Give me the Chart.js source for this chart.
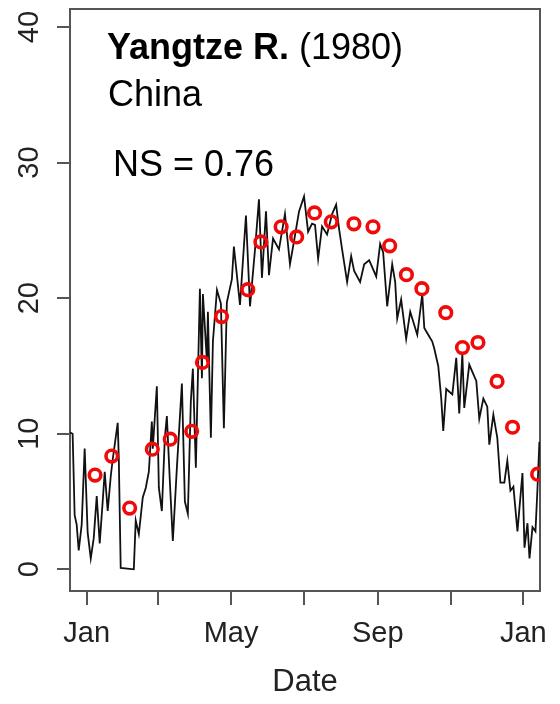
<!DOCTYPE html>
<html lang="en">
<head>
<meta charset="utf-8">
<title>Yangtze R. (1980)</title>
<style>
  body { margin: 0; background: #fff; }
  #wrap { width: 560px; height: 704px; }
</style>
</head>
<body>
<div id="wrap"><canvas id="tempChart"></canvas></div>
<script src="https://cdn.jsdelivr.net/npm/chart.js@4.4.0/dist/chart.umd.min.js"></script>
<script>
// days since 1 Jan 1980, water temperature
var lineDays = [-14.3, -11.8, -10.1, -8.4, -6.7, -4.2, -1.7, 0.8, 3.4, 5.9,
  8.4, 10.9, 13.4, 15.1, 17.6, 20.2, 21.8, 26.0, 26.9, 28.5,
  39.5, 41.1, 43.7, 47.0, 49.5, 52.1, 54.6, 55.4, 58.8, 60.5,
  63.0, 65.5, 67.2, 69.7, 72.2, 75.6, 79.8, 82.3, 84.8, 87.3,
  89.0, 91.5, 94.9, 96.6, 97.4, 100.8, 101.6, 104.1, 105.8, 109.2,
  112.5, 115.0, 117.5, 121.7, 123.4, 128.5, 133.5, 136.9, 141.1, 144.4,
  146.9, 150.3, 152.8, 156.2, 161.2, 166.2, 170.4, 173.8, 178.0, 182.2,
  185.6, 188.9, 191.4, 194.0, 197.3, 201.5, 205.7, 209.1, 211.6, 214.1,
  218.3, 221.7, 224.2, 229.2, 232.6, 236.8, 242.7, 246.0, 248.5, 251.9,
  256.1, 258.6, 260.3, 263.6, 267.8, 271.2, 277.1, 281.3, 283.0, 286.3,
  289.7, 291.3, 294.7, 297.2, 298.9, 301.4, 306.5, 309.8, 312.3, 314.9,
  316.5, 320.7, 324.1, 326.6, 329.1, 332.5, 335.8, 337.5, 340.9, 344.2,
  346.8, 350.1, 352.6, 355.2, 357.7, 361.1, 365.3, 367.0, 369.5, 371.2,
  373.7, 376.2, 377.8, 379.5];
var lineTemps = [10.1, 10.0, 4.0, 3.3, 1.4, 3.3, 8.9, 2.7, 0.8, 2.3,
  5.4, 1.9, 5.0, 7.2, 4.3, 6.9, 8.1, 10.8, 8.2, 0.1,
  0.0, 3.6, 2.6, 5.3, 6.0, 7.2, 10.9, 8.9, 13.5, 6.0,
  4.3, 9.7, 11.3, 6.5, 2.1, 7.5, 13.7, 5.0, 4.1, 12.4,
  14.8, 7.5, 20.7, 14.1, 20.3, 15.3, 19.0, 9.7, 16.8, 20.6,
  19.6, 10.4, 19.7, 21.4, 23.8, 19.5, 26.1, 19.4, 23.6, 27.3,
  21.5, 26.4, 21.7, 24.4, 23.6, 26.2, 22.5, 24.2, 26.4, 27.5,
  24.9, 25.5, 25.4, 22.9, 25.3, 24.7, 26.2, 26.9, 25.1, 23.6,
  21.2, 23.1, 22.0, 21.2, 22.5, 22.8, 21.6, 24.0, 23.4, 19.4,
  22.5, 21.2, 18.5, 19.9, 17.0, 19.0, 17.3, 20.3, 17.8, 17.3,
  16.8, 16.3, 15.0, 12.6, 10.2, 13.3, 12.9, 15.6, 11.5, 15.9,
  11.9, 15.1, 14.4, 13.9, 11.1, 12.6, 12.0, 9.2, 11.4, 9.7,
  6.4, 6.4, 8.0, 5.8, 6.1, 2.8, 7.1, 1.6, 3.4, 0.8,
  3.1, 2.8, 5.8, 9.4];

var pointDays = [7, 21, 36, 55, 70, 88, 97, 113, 135, 146, 163, 176, 191,
  205, 224, 240, 254, 268, 281, 301, 315, 328, 344, 357, 378];
var pointTemps = [6.95, 8.35, 4.52, 8.86, 9.60, 10.18, 15.26, 18.64, 20.63,
  24.15, 25.26, 24.52, 26.29, 25.63, 25.48, 25.26, 23.86, 21.73, 20.70,
  18.93, 16.36, 16.73, 13.86, 10.48, 7.02];

var monthTicks = [0, 60, 121, 182, 244, 305, 366];
var monthLabels = {0: 'Jan', 121: 'May', 244: 'Sep', 366: 'Jan'};
var tempTicks = [0, 10, 20, 30, 40];

var fontFamily = '"Liberation Sans", Arial, Helvetica, sans-serif';
var axisColor = '#555';

function toPoints(xs, ys) {
  var out = [];
  for (var i = 0; i < xs.length; i++) {
    out.push({x: xs[i], y: ys[i]});
  }
  return out;
}

// title text inside the plot
var labelPlugin = {
  id: 'plotLabels',
  afterDraw: function(chart) {
    var ctx = chart.ctx;
    ctx.save();
    ctx.fillStyle = '#000';
    ctx.textBaseline = 'alphabetic';
    ctx.textAlign = 'left';
    ctx.font = 'bold 36px ' + fontFamily;
    ctx.fillText('Yangtze R.', 107, 59);
    var w = ctx.measureText('Yangtze R.').width;
    ctx.font = '36px ' + fontFamily;
    ctx.fillText(' (1980)', 107 + w, 59);
    ctx.fillText('China', 108, 106);
    ctx.fillText('NS = 0.76', 113, 176);
    ctx.restore();
  }
};

var tempChart = new Chart(document.getElementById('tempChart'), {
  type: 'scatter',
  data: {
    datasets: [{
      label: 'points',
      data: toPoints(pointDays, pointTemps),
      showLine: false,
      pointRadius: 5.8,
      pointHoverRadius: 5.8,
      pointBorderWidth: 3.6,
      pointBorderColor: '#f00a0a',
      pointBackgroundColor: 'rgba(0,0,0,0)',
      order: 0
    }, {
      label: 'daily',
      data: toPoints(lineDays, lineTemps),
      showLine: true,
      borderColor: '#111',
      borderWidth: 1.8,
      pointRadius: 0,
      tension: 0,
      order: 1
    }]
  },
  options: {
    responsive: true,
    maintainAspectRatio: false,
    animation: false,
    layout: { padding: 0 },
    plugins: {
      legend: { display: false },
      tooltip: { enabled: false }
    },
    scales: {
      x: {
        type: 'linear',
        position: 'bottom',
        min: -14,
        max: 380,
        afterBuildTicks: function(scale) {
          scale.ticks = monthTicks.map(function(v) { return {value: v}; });
        },
        afterFit: function(scale) {
          scale.height = 113;
          scale.paddingLeft = 0;
          scale.paddingRight = 0;
        },
        ticks: {
          autoSkip: false,
          minRotation: 0,
          maxRotation: 0,
          padding: 12,
          color: '#222',
          font: { family: fontFamily, size: 29 },
          callback: function(v) { return monthLabels[v] || ''; }
        },
        grid: { drawOnChartArea: false, drawTicks: true, tickLength: 14, color: axisColor, lineWidth: 2 },
        border: { display: true, color: axisColor, width: 2 },
        title: {
          display: true,
          text: 'Date',
          color: '#222',
          font: { family: fontFamily, size: 31 },
          padding: { top: 0, bottom: 3 }
        }
      },
      y: {
        type: 'linear',
        position: 'left',
        min: -1.6,
        max: 41.3,
        afterBuildTicks: function(scale) {
          scale.ticks = tempTicks.map(function(v) { return {value: v}; });
        },
        afterFit: function(scale) {
          scale.width = 70;
          scale.paddingTop = 0;
          scale.paddingBottom = 0;
        },
        ticks: {
          minRotation: 90,
          maxRotation: 90,
          crossAlign: 'center',
          padding: 11,
          color: '#222',
          font: { family: fontFamily, size: 29 }
        },
        grid: { drawOnChartArea: false, drawTicks: true, tickLength: 13, color: axisColor, lineWidth: 2 },
        border: { display: true, color: axisColor, width: 2 }
      },
      x2: {
        type: 'linear',
        position: 'top',
        ticks: { display: false },
        grid: { display: false },
        border: { display: true, color: axisColor, width: 2 },
        afterFit: function(scale) { scale.height = 6; }
      },
      y2: {
        type: 'linear',
        position: 'right',
        ticks: { display: false },
        grid: { display: false },
        border: { display: true, color: axisColor, width: 2 },
        afterFit: function(scale) { scale.width = 20; }
      }
    }
  },
  plugins: [labelPlugin]
});
</script>
</body>
</html>
